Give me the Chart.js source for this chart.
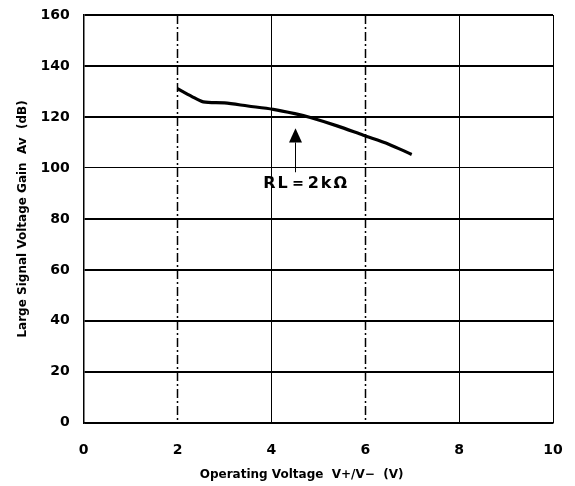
<!DOCTYPE html>
<html>
<head>
<meta charset="utf-8">
<script src="https://cdn.jsdelivr.net/npm/chart.js@4"></script>
<style>
  html, body { margin: 0; padding: 0; background: #ffffff; }
  #wrap { width: 575px; height: 486px; }
</style>
</head>
<body>
<div id="wrap"><canvas id="c" width="575" height="486"></canvas></div>
<script>
// ---- data ----
const voltage = [2.0, 2.3, 2.55, 3.0, 3.5, 4.04, 4.5, 4.83, 5.4, 5.96, 6.5, 6.99];
const gain    = [131.1, 128.1, 125.9, 125.5, 124.3, 123.0, 121.3, 119.8, 116.5, 112.8, 109.3, 105.3];
const xTickValues = [0, 2, 4, 6, 8, 10];
const yTickValues = [0, 20, 40, 60, 80, 100, 120, 140, 160];
const dashedGridX = [2, 6];
const annotationLabel = 'RL＝2kΩ';
const arrowX = [4.51];
const arrowTipY = [115.6];
const arrowBaseY = [110.0];
const arrowTailY = [98.3];
const labelX = [4.74];
const labelY = [93.6];
const xTitle = 'Operating Voltage  V+/V−  (V)\u00a0\u00a0\u00a0\u00a0\u00a0\u00a0\u00a0\u00a0';
const yTitle = 'Large Signal Voltage Gain  Av  (dB)';

const annotatePlugin = {
  id: 'annotate',
  beforeDatasetsDraw(chart) {
    const { ctx, scales: { x, y }, chartArea } = chart;
    ctx.save();
    ctx.strokeStyle = '#000';
    ctx.lineWidth = 1.5;
    ctx.setLineDash([9, 3, 2, 3]);
    dashedGridX.forEach(v => {
      const px = Math.round(x.getPixelForValue(v)) + 0.5;
      ctx.beginPath();
      ctx.moveTo(px, chartArea.top);
      ctx.lineTo(px, chartArea.bottom);
      ctx.stroke();
    });
    ctx.restore();
  },
  afterDatasetsDraw(chart) {
    const { ctx, scales: { x, y } } = chart;
    ctx.save();
    const ax = Math.round(x.getPixelForValue(arrowX[0])) + 0.5;
    const tip = y.getPixelForValue(arrowTipY[0]);
    const base = y.getPixelForValue(arrowBaseY[0]);
    const tail = y.getPixelForValue(arrowTailY[0]);
    ctx.strokeStyle = '#000';
    ctx.lineWidth = 1;
    ctx.beginPath();
    ctx.moveTo(ax, base);
    ctx.lineTo(ax, tail);
    ctx.stroke();
    ctx.fillStyle = '#000';
    ctx.beginPath();
    ctx.moveTo(ax, tip);
    ctx.lineTo(ax - 6.5, base);
    ctx.lineTo(ax + 6.5, base);
    ctx.closePath();
    ctx.fill();
    ctx.font = 'bold 16px "DejaVu Sans"';
    ctx.textAlign = 'center';
    ctx.textBaseline = 'middle';
    try { ctx.letterSpacing = '2px'; } catch (e) {}
    ctx.fillText(annotationLabel, x.getPixelForValue(labelX[0]), y.getPixelForValue(labelY[0]));
    ctx.restore();
  }
};

new Chart(document.getElementById('c'), {
  type: 'line',
  data: {
    datasets: [{
      data: voltage.map((v, i) => ({ x: v, y: gain[i] })),
      borderColor: '#000',
      borderWidth: 3.2,
      pointRadius: 0,
      tension: 0.3,
      fill: false
    }]
  },
  options: {
    responsive: false,
    animation: false,
    layout: { padding: { left: 16, right: 22, top: 15, bottom: 4 } },
    plugins: { legend: { display: false }, tooltip: { enabled: false } },
    scales: {
      x: {
        type: 'linear',
        min: 0, max: 10,
        afterBuildTicks: s => { s.ticks = xTickValues.map(v => ({ value: v })); },
        ticks: { color: '#000', font: { family: '"DejaVu Sans"', size: 14, weight: 'bold' }, padding: 0, maxRotation: 0 },
        grid: {
          drawTicks: true,
          tickLength: 19,
          tickColor: 'rgba(0,0,0,0)',
          color: c => (dashedGridX.includes(c.tick && c.tick.value) ? 'rgba(0,0,0,0)' : '#000'),
          lineWidth: 1
        },
        border: { color: '#000', width: 1.5 },
        title: { display: true, text: xTitle, color: '#000', font: { family: '"DejaVu Sans"', size: 12, weight: 'bold' }, padding: { top: 9, bottom: 0 } }
      },
      y: {
        type: 'linear',
        min: 0, max: 160,
        afterBuildTicks: s => { s.ticks = yTickValues.map(v => ({ value: v })); },
        ticks: { color: '#000', font: { family: '"DejaVu Sans"', size: 14, weight: 'bold' }, padding: 0 },
        grid: {
          drawTicks: true,
          tickLength: 14,
          tickColor: 'rgba(0,0,0,0)',
          color: '#000',
          lineWidth: c => (c.tick && c.tick.value === 100 ? 1 : 2)
        },
        border: { color: '#000', width: 1.5 },
        title: { display: true, text: yTitle, color: '#000', font: { family: '"DejaVu Sans"', size: 12, weight: 'bold' }, padding: { top: 0, bottom: 10 } }
      }
    }
  },
  plugins: [annotatePlugin]
});
</script>
</body>
</html>
